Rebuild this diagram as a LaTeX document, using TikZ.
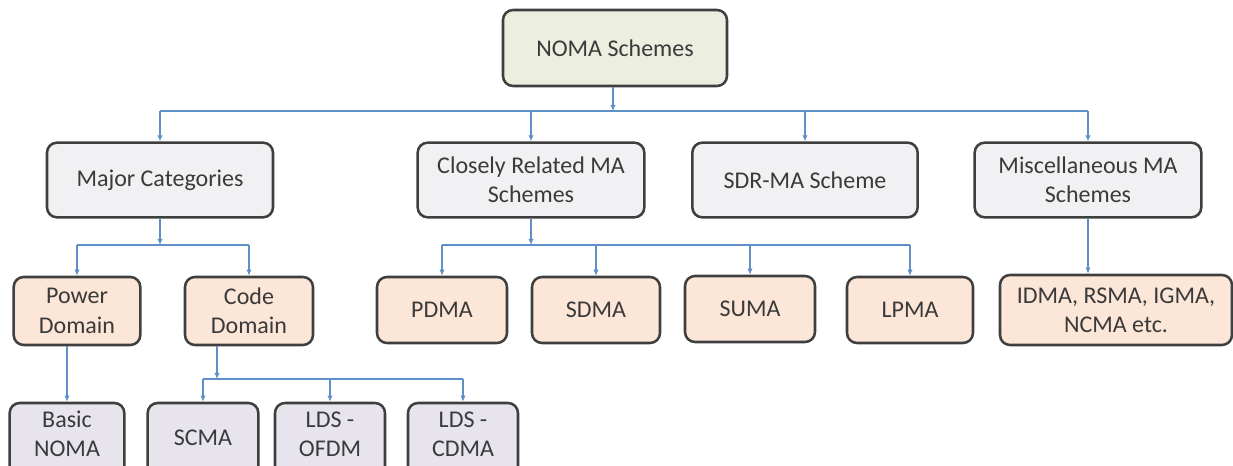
\documentclass[tikz,border=0pt]{standalone}
\usepackage{fontspec}
\setmainfont{Carlito}
\usetikzlibrary{arrows.meta}

\definecolor{boxline}{HTML}{3F3F3F}
\definecolor{boxtext}{HTML}{3A3A3A}
\definecolor{wirecol}{HTML}{5E8FC6}
\definecolor{rootfill}{HTML}{ECEFDF}
\definecolor{catfill}{HTML}{F1F1F3}
\definecolor{subfill}{HTML}{FBE6D7}
\definecolor{leaffill}{HTML}{E8E4EE}

\tikzset{
  box/.style={draw=boxline, line width=1.9pt, rounded corners=7.5pt,
    align=center, text=boxtext, inner sep=2pt,
    font=\fontsize{18}{22}\selectfont},
  rootbox/.style={box, fill=rootfill, minimum width=168pt, minimum height=57pt},
  catbox/.style={box, fill=catfill, minimum height=56pt},
  subbox/.style={box, fill=subfill},
  leafbox/.style={box, fill=leaffill, minimum height=55.5pt, text depth=9pt},
  wire/.style={draw=wirecol, line width=0.9pt},
  link/.style={wire, -{Latex[length=4.5pt,width=4pt]}}
}

\begin{document}
\begin{tikzpicture}[x=0.75pt, y=-0.75pt]
            \useasboundingbox (0,0) rectangle (1233,466);
            \clip (0,0) rectangle (1233,466);

            \node[rootbox] (noma) at (615, 48) {NOMA Schemes};

            \node[catbox, minimum width=169.5pt] (maj) at (160, 180) {Major Categories};
            \node[catbox, minimum width=170pt] (crel) at (531, 180) {Closely Related MA\\Schemes};
            \node[catbox, minimum width=169pt] (sdr) at (805, 180) {SDR-MA Scheme};
            \node[catbox, minimum width=170pt] (misc) at (1088, 180) {Miscellaneous MA\\Schemes};

            \node[subbox, minimum width=95pt, minimum height=51pt] (pow) at (77, 311) {Power\\Domain};
            \node[subbox, minimum width=96pt, minimum height=51pt] (code) at (249, 311) {Code\\Domain};
            \node[subbox, minimum width=97.5pt, minimum height=49.5pt] (pdma) at (442, 310) {PDMA};
            \node[subbox, minimum width=96pt, minimum height=49.5pt] (sdma) at (596, 310) {SDMA};
            \node[subbox, minimum width=97.5pt, minimum height=49.5pt] (suma) at (750, 309) {SUMA};
            \node[subbox, minimum width=94.5pt, minimum height=49.5pt] (lpma) at (910, 310) {LPMA};
            \node[subbox, minimum width=174pt, minimum height=52.5pt] (idma) at (1116, 310) {IDMA, RSMA, IGMA,\\NCMA etc.};

            % bottom row runs past the lower edge
            \node[leafbox, minimum width=86pt] (basic) at (67, 440) {Basic\\NOMA};
            \node[leafbox, minimum width=83pt, text depth=3pt] (scma) at (203, 440) {SCMA};
            \node[leafbox, minimum width=82.5pt] (ofdm) at (330, 440) {LDS -\\OFDM};
            \node[leafbox, minimum width=82.5pt] (cdma) at (463, 440) {LDS -\\CDMA};

            % junction points
            \coordinate (b0) at (613, 111);
            \coordinate (b1) at (160, 245);
            \coordinate (b2) at (531, 245);
            \coordinate (b3) at (217, 379);

            \draw[link] (noma.south -| b0) -- (b0);
            \draw[wire] (maj.north |- b0) -- (misc.north |- b0);
            \foreach \n in {maj, crel, sdr, misc}
                \draw[link] (\n.north |- b0) -- (\n.north);

            \draw[link] (maj.south) -- (b1);
            \draw[wire] (pow.north |- b1) -- (code.north |- b1);
            \draw[link] (pow.north |- b1) -- (pow.north);
            \draw[link] (code.north |- b1) -- (code.north);

            \draw[link] (crel.south) -- (b2);
            \draw[wire] (pdma.north |- b2) -- (lpma.north |- b2);
            \foreach \n in {pdma, sdma, suma, lpma}
                \draw[link] (\n.north |- b2) -- (\n.north);

            \draw[link] (misc.south) -- (misc.south |- idma.north);

            \draw[link] (pow.south -| basic.north) -- (basic.north);

            \draw[link] (code.south -| b3) -- (b3);
            \draw[wire] (scma.north |- b3) -- (cdma.north |- b3);
            \foreach \n in {scma, ofdm, cdma}
                \draw[link] (\n.north |- b3) -- (\n.north);
\end{tikzpicture}
\end{document}
